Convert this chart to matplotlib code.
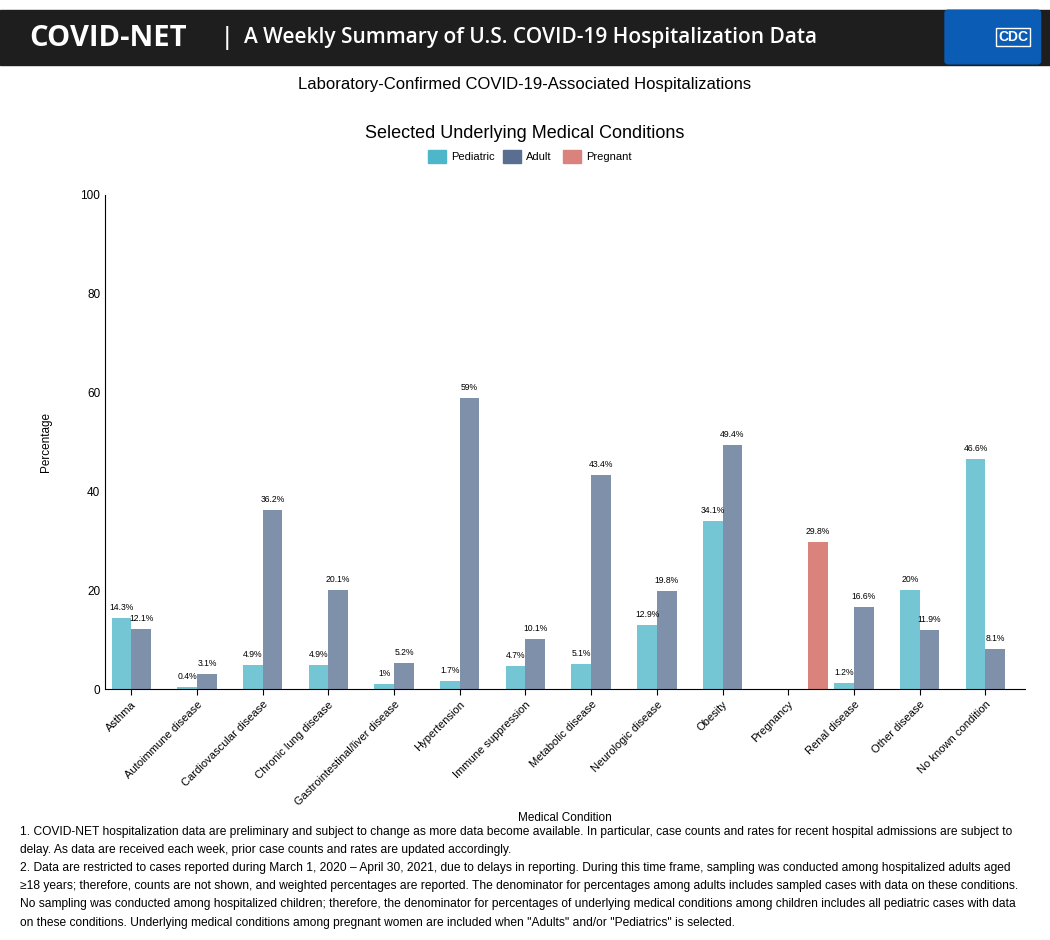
import matplotlib.pyplot as plt
import numpy as np
from matplotlib.patches import Rectangle, FancyBboxPatch

categories = ['Asthma', 'Autoimmune disease', 'Cardiovascular disease', 'Chronic lung disease',
              'Gastrointestinal/liver disease', 'Hypertension', 'Immune suppression',
              'Metabolic disease', 'Neurologic disease', 'Obesity', 'Pregnancy',
              'Renal disease', 'Other disease', 'No known condition']
pediatric = [14.3, 0.4, 4.9, 4.9, 1, 1.7, 4.7, 5.1, 12.9, 34.1, None, 1.2, 20, 46.6]
adult = [12.1, 3.1, 36.2, 20.1, 5.2, 59, 10.1, 43.4, 19.8, 49.4, None, 16.6, 11.9, 8.1]
pregnant = [None] * 10 + [29.8] + [None] * 3

c_ped = '#74C6D5'
c_adu = '#7F90AA'
c_pre = '#D9837C'

plt.rcParams['font.family'] = ['Liberation Sans', 'DejaVu Sans']
fig = plt.figure(figsize=(10.5, 9.4), dpi=100)

# header banner
fig.patches.append(Rectangle((0.0, 1 - 65 / 940), 1.0, 55 / 940, transform=fig.transFigure,
                             color='#1e1e1e', zorder=0))
fig.text(0.028, 1 - 38 / 940, 'COVID-NET', color='white', fontsize=21, fontweight='bold',
         va='center', family=['Open Sans', 'DejaVu Sans'])
fig.text(0.213, 1 - 38 / 940, '|', color='white', fontsize=18, va='center')
fig.text(0.232, 1 - 38 / 940, 'A Weekly Summary of U.S. COVID-19 Hospitalization Data', color='white',
         fontsize=15, fontweight='semibold', va='center', family=['Open Sans', 'DejaVu Sans'])
fig.patches.append(FancyBboxPatch((0.903, 1 - 61 / 940), 0.085, 48 / 940, boxstyle='round,pad=0.003',
                                  transform=fig.transFigure, color='#0a5cb5', zorder=1))
fig.text(0.965, 1 - 37 / 940, 'CDC', color='white', fontsize=10, fontweight='bold', ha='center', va='center',
         bbox=dict(boxstyle='square,pad=0.15', fc='#0a5cb5', ec='white'))

fig.text(0.5, 1 - 84 / 940, 'Laboratory-Confirmed COVID-19-Associated Hospitalizations',
         ha='center', va='center', fontsize=12)
fig.text(0.5, 1 - 133 / 940, 'Selected Underlying Medical Conditions', ha='center', va='center', fontsize=13)

# legend
for lx, col, lab in [(0.408, '#4DB6C9', 'Pediatric'), (0.479, '#5A6E91', 'Adult'), (0.536, c_pre, 'Pregnant')]:
    fig.patches.append(Rectangle((lx, 1 - 163 / 940), 0.017, 13 / 940, transform=fig.transFigure, color=col))
    fig.text(lx + 0.022, 1 - 157 / 940, lab, fontsize=8, va='center')

ax = fig.add_axes([0.1, 1 - 689 / 940, 0.876, 494 / 940])
x = np.arange(len(categories))
w = 0.3
for i in range(len(categories)):
    if pediatric[i] is not None:
        ax.bar(x[i] - w / 2, pediatric[i], w, color=c_ped)
        ax.text(x[i] - w / 2, pediatric[i] + 1.2, f'{pediatric[i]:g}%', ha='center', va='bottom', fontsize=6.2)
    if adult[i] is not None:
        ax.bar(x[i] + w / 2, adult[i], w, color=c_adu)
        ax.text(x[i] + w / 2, adult[i] + 1.2, f'{adult[i]:g}%', ha='center', va='bottom', fontsize=6.2)
    if pregnant[i] is not None:
        ax.bar(x[i] + 1.5 * w, pregnant[i], w, color=c_pre)
        ax.text(x[i] + 1.5 * w, pregnant[i] + 1.2, f'{pregnant[i]:g}%', ha='center', va='bottom', fontsize=6.2)

ax.set_xlim(-0.4, len(categories) - 0.4)
ax.set_ylim(0, 100)
ax.set_yticks(range(0, 101, 20))
ax.tick_params(axis='y', labelsize=8.5, length=0)
ax.set_xticks(x)
ax.set_xticklabels(categories, rotation=45, ha='right', rotation_mode='anchor', fontsize=8)
ax.tick_params(axis='x', length=4)
for s in ['top', 'right']:
    ax.spines[s].set_visible(False)
ax.set_ylabel('Percentage', fontsize=8.5, labelpad=20)
fig.text(0.538, 1 - 818 / 940, 'Medical Condition', ha='center', va='center', fontsize=8.5)

notes = ('1. COVID-NET hospitalization data are preliminary and subject to change as more data become available. In particular, case counts and rates for recent hospital admissions are subject to\n'
         'delay. As data are received each week, prior case counts and rates are updated accordingly.\n'
         '2. Data are restricted to cases reported during March 1, 2020 \u2013 April 30, 2021, due to delays in reporting. During this time frame, sampling was conducted among hospitalized adults aged\n'
         '\u226518 years; therefore, counts are not shown, and weighted percentages are reported. The denominator for percentages among adults includes sampled cases with data on these conditions.\n'
         'No sampling was conducted among hospitalized children; therefore, the denominator for percentages of underlying medical conditions among children includes all pediatric cases with data\n'
         'on these conditions. Underlying medical conditions among pregnant women are included when "Adults" and/or "Pediatrics" is selected.')
fig.text(0.019, 1 - 826 / 940, notes, ha='left', va='top', fontsize=8.65, linespacing=1.68)

fig.savefig('out.png', dpi=100)
